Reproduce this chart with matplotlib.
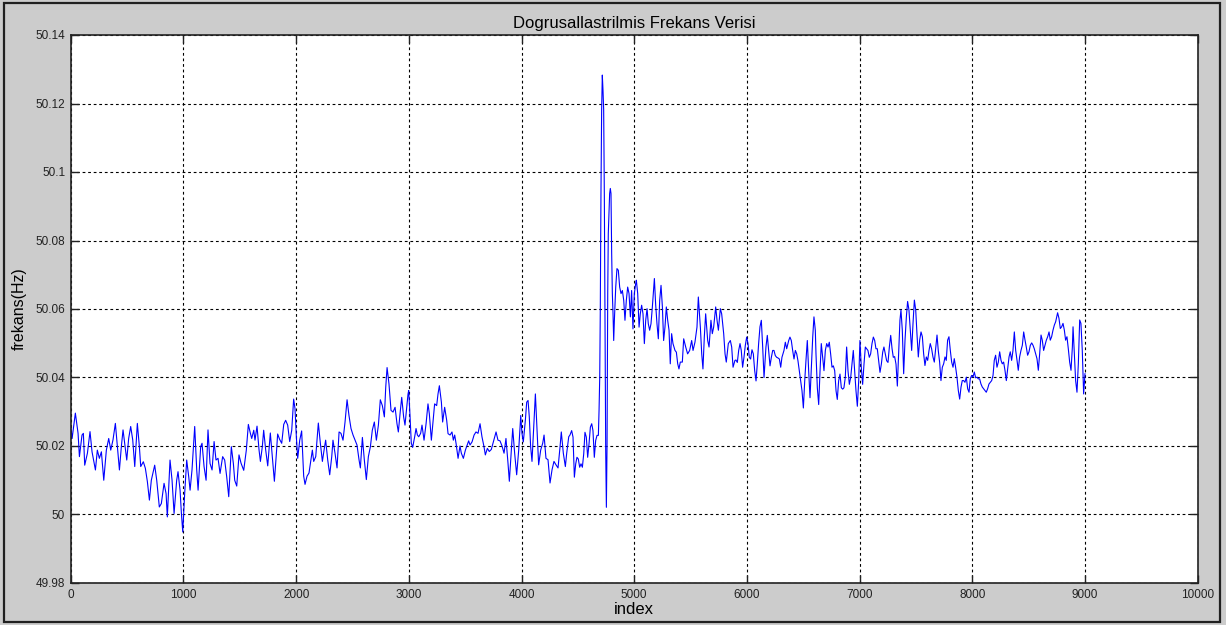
import numpy as np
import matplotlib
matplotlib.use("Agg")
import matplotlib.pyplot as plt
from matplotlib.patches import Rectangle

plt.rcParams['font.family'] = ['Liberation Sans', 'DejaVu Sans']

# frequency samples, read segment by segment (index, Hz)
idx_1 = [0, 12, 41, 65, 77, 100, 112, 124, 148, 171, 189, 219, 236, 254, 272, 293, 316, 337,
         355, 375, 396, 414, 432, 449, 464, 479, 497, 514, 532, 550, 568, 591, 609, 621, 644,
         662, 680, 698, 715, 745, 763, 786, 804, 828, 846, 857, 881, 899, 917, 940, 952, 970,
         982, 994, 1011, 1029, 1047, 1059, 1076, 1100, 1118, 1130, 1153, 1165, 1183, 1201,
         1218, 1236, 1254, 1272, 1289, 1307, 1325, 1348, 1366, 1384, 1402, 1425, 1443, 1455,
         1473]
hz_1 = [50.0257, 50.0222, 50.0296, 50.0237, 50.0169, 50.0232, 50.0237, 50.0144, 50.0179,
        50.0242, 50.0183, 50.0130, 50.0188, 50.0164, 50.0183, 50.0100, 50.0188, 50.0222,
        50.0188, 50.0218, 50.0266, 50.0198, 50.0130, 50.0198, 50.0247, 50.0208, 50.0159,
        50.0222, 50.0257, 50.0218, 50.0140, 50.0266, 50.0198, 50.0140, 50.0154, 50.0135,
        50.0096, 50.0042, 50.0100, 50.0144, 50.0100, 50.0022, 50.0032, 50.0091, 50.0061,
        49.9993, 50.0159, 50.0100, 50.0003, 50.0100, 50.0125, 50.0071, 50.0003, 49.9949,
        50.0061, 50.0159, 50.0110, 50.0071, 50.0130, 50.0257, 50.0130, 50.0071, 50.0198,
        50.0208, 50.0140, 50.0100, 50.0247, 50.0149, 50.0130, 50.0213, 50.0159, 50.0164,
        50.0120, 50.0169, 50.0159, 50.0110, 50.0052, 50.0198, 50.0149, 50.0100, 50.0083]

idx_2 = [1493, 1511, 1535, 1558, 1576, 1594, 1606, 1624, 1635, 1653, 1671, 1683, 1700, 1712,
         1730, 1748, 1771, 1789, 1807, 1825, 1836, 1854, 1872, 1890, 1907, 1925, 1943, 1961,
         1978, 1990, 2002, 2014, 2032, 2049, 2067, 2079, 2097, 2114, 2132, 2144, 2156, 2174,
         2197, 2215, 2233, 2250, 2262, 2280, 2298, 2316, 2327, 2345, 2363, 2381, 2398, 2416,
         2434, 2452, 2469, 2487, 2505, 2523, 2540, 2558, 2570, 2588, 2605, 2623, 2641, 2659,
         2676, 2694, 2712, 2730, 2747, 2765, 2783, 2795, 2807, 2824, 2842, 2860, 2878, 2895,
         2907, 2925, 2937, 2954, 2966]
hz_2 = [50.0174, 50.0150, 50.0129, 50.0188, 50.0263, 50.0237, 50.0222, 50.0246, 50.0217,
        50.0258, 50.0188, 50.0155, 50.0198, 50.0246, 50.0188, 50.0142, 50.0238, 50.0169,
        50.0097, 50.0179, 50.0235, 50.0219, 50.0208, 50.0263, 50.0275, 50.0261, 50.0213,
        50.0246, 50.0337, 50.0309, 50.0227, 50.0164, 50.0217, 50.0244, 50.0112, 50.0088,
        50.0112, 50.0121, 50.0160, 50.0188, 50.0155, 50.0169, 50.0267, 50.0208, 50.0155,
        50.0193, 50.0217, 50.0160, 50.0116, 50.0169, 50.0217, 50.0179, 50.0136, 50.0241,
        50.0237, 50.0217, 50.0270, 50.0335, 50.0289, 50.0251, 50.0232, 50.0217, 50.0203,
        50.0160, 50.0136, 50.0225, 50.0160, 50.0102, 50.0169, 50.0198, 50.0246, 50.0270,
        50.0217, 50.0261, 50.0335, 50.0318, 50.0285, 50.0371, 50.0429, 50.0381, 50.0304,
        50.0299, 50.0313, 50.0265, 50.0241, 50.0304, 50.0342, 50.0285, 50.0261]

idx_3 = [2981, 2993, 2999, 3011, 3022, 3034, 3052, 3064, 3076, 3088, 3105, 3117, 3135, 3153,
         3170, 3182, 3200, 3218, 3229, 3247, 3259, 3271, 3289, 3300, 3318, 3336, 3348, 3366,
         3383, 3395, 3407, 3419, 3437, 3454, 3466, 3484, 3502, 3513, 3531, 3543, 3561, 3579,
         3596, 3614, 3632, 3649, 3667, 3679, 3697, 3714, 3732, 3750, 3774, 3791, 3809, 3827,
         3845, 3862, 3880, 3892, 3910, 3922, 3939, 3957, 3975, 3993, 4004, 4016, 4034, 4046,
         4058, 4069, 4081, 4093, 4111, 4123, 4135, 4152, 4170, 4188, 4200, 4217, 4235, 4253,
         4271, 4288, 4306, 4324, 4342, 4353, 4371, 4389, 4401, 4419, 4430]
hz_3 = [50.0313, 50.0352, 50.0362, 50.0285, 50.0208, 50.0196, 50.0227, 50.0251, 50.0232,
        50.0227, 50.0237, 50.0261, 50.0217, 50.0265, 50.0323, 50.0294, 50.0217, 50.0285,
        50.0323, 50.0318, 50.0352, 50.0376, 50.0328, 50.0270, 50.0313, 50.0275, 50.0236,
        50.0232, 50.0241, 50.0217, 50.0232, 50.0208, 50.0164, 50.0200, 50.0179, 50.0164,
        50.0188, 50.0198, 50.0215, 50.0203, 50.0212, 50.0232, 50.0241, 50.0237, 50.0265,
        50.0227, 50.0198, 50.0174, 50.0193, 50.0184, 50.0190, 50.0212, 50.0241, 50.0217,
        50.0215, 50.0200, 50.0179, 50.0222, 50.0150, 50.0097, 50.0188, 50.0251, 50.0179,
        50.0116, 50.0188, 50.0289, 50.0237, 50.0212, 50.0275, 50.0328, 50.0333, 50.0285,
        50.0198, 50.0155, 50.0275, 50.0352, 50.0265, 50.0145, 50.0188, 50.0208, 50.0232,
        50.0164, 50.0160, 50.0092, 50.0131, 50.0155, 50.0145, 50.0136, 50.0198, 50.0241,
        50.0179, 50.0140, 50.0179, 50.0227, 50.0232]

idx_4 = [4445, 4457, 4469, 4481, 4492, 4504, 4516, 4528, 4540, 4552, 4563, 4575, 4587, 4599,
         4611, 4623, 4634, 4646, 4658, 4670, 4682, 4688, 4694, 4699, 4705, 4711, 4717, 4723,
         4729, 4735, 4741, 4747, 4753, 4759, 4765, 4770, 4782, 4788, 4794, 4800, 4806, 4812,
         4818, 4824, 4836, 4847, 4859, 4871, 4883, 4895, 4907, 4918, 4930, 4942, 4954, 4966,
         4977, 4989, 5001, 5013, 5019, 5031, 5043, 5054, 5066, 5078, 5090, 5102, 5114, 5125,
         5137, 5149, 5161, 5179, 5190, 5202, 5214, 5226, 5238, 5250, 5261, 5273, 5285, 5297,
         5309, 5320, 5332, 5344, 5362, 5374, 5386, 5397, 5409, 5427, 5439, 5457, 5474, 5492,
         5510, 5522, 5539, 5557, 5569, 5587, 5599, 5610, 5622, 5634, 5652, 5664, 5681, 5693,
         5705, 5723, 5735, 5747, 5764, 5776, 5794, 5806, 5817, 5835, 5853, 5865, 5877, 5894]
hz_4 = [50.0245, 50.0226, 50.0109, 50.0148, 50.0167, 50.0162, 50.0138, 50.0148, 50.0138,
        50.0177, 50.0240, 50.0226, 50.0167, 50.0206, 50.0255, 50.0265, 50.0245, 50.0167,
        50.0216, 50.0231, 50.0231, 50.0304, 50.0401, 50.0596, 50.0937, 50.1181, 50.1283,
        50.1239, 50.1181, 50.0927, 50.0547, 50.0187, 50.0021, 50.0206, 50.0645, 50.0820,
        50.0937, 50.0952, 50.0937, 50.0762, 50.0645, 50.0586, 50.0508, 50.0567, 50.0664,
        50.0718, 50.0713, 50.0664, 50.0645, 50.0654, 50.0625, 50.0567, 50.0625, 50.0664,
        50.0645, 50.0577, 50.0654, 50.0542, 50.0645, 50.0674, 50.0684, 50.0645, 50.0547,
        50.0586, 50.0611, 50.0586, 50.0499, 50.0567, 50.0601, 50.0557, 50.0538, 50.0557,
        50.0606, 50.0689, 50.0615, 50.0557, 50.0513, 50.0625, 50.0669, 50.0606, 50.0508,
        50.0547, 50.0606, 50.0567, 50.0538, 50.0440, 50.0528, 50.0499, 50.0479, 50.0474,
        50.0440, 50.0425, 50.0445, 50.0445, 50.0513, 50.0489, 50.0469, 50.0479, 50.0508,
        50.0479, 50.0503, 50.0547, 50.0635, 50.0547, 50.0469, 50.0425, 50.0518, 50.0586,
        50.0508, 50.0489, 50.0567, 50.0528, 50.0547, 50.0606, 50.0567, 50.0538, 50.0601,
        50.0586, 50.0528, 50.0469, 50.0445, 50.0499, 50.0508, 50.0489, 50.0430, 50.0450]

idx_5 = [5903, 5915, 5927, 5939, 5950, 5962, 5974, 5986, 5998, 6010, 6021, 6033, 6045, 6057,
         6069, 6081, 6092, 6104, 6116, 6128, 6140, 6152, 6169, 6181, 6193, 6205, 6217, 6229,
         6240, 6252, 6264, 6276, 6288, 6300, 6311, 6329, 6341, 6353, 6371, 6382, 6394, 6406,
         6418, 6430, 6442, 6453, 6465, 6477, 6489, 6501, 6513, 6524, 6536, 6548, 6560, 6572,
         6584, 6595, 6607, 6613, 6625, 6637, 6649, 6660, 6672, 6684, 6696, 6708, 6720, 6731,
         6743, 6755, 6767, 6779, 6791, 6802, 6814, 6826, 6838, 6850, 6861, 6873, 6885, 6897,
         6909, 6921, 6932, 6944, 6956, 6968, 6980, 6992, 7003, 7015, 7027, 7039, 7051, 7063,
         7074, 7086, 7098, 7110, 7122, 7134, 7145, 7157, 7169, 7181, 7193, 7205, 7216, 7228,
         7240, 7252, 7264, 7276, 7288, 7299, 7311, 7323, 7335, 7347, 7358]
hz_5 = [50.0451, 50.0444, 50.0479, 50.0499, 50.0479, 50.0430, 50.0459, 50.0494, 50.0518,
        50.0499, 50.0459, 50.0454, 50.0481, 50.0469, 50.0420, 50.0390, 50.0439, 50.0499,
        50.0548, 50.0567, 50.0489, 50.0400, 50.0489, 50.0523, 50.0479, 50.0434, 50.0459,
        50.0479, 50.0479, 50.0464, 50.0459, 50.0457, 50.0454, 50.0430, 50.0459, 50.0479,
        50.0503, 50.0484, 50.0508, 50.0518, 50.0508, 50.0479, 50.0454, 50.0479, 50.0469,
        50.0449, 50.0420, 50.0390, 50.0361, 50.0311, 50.0390, 50.0449, 50.0508, 50.0420,
        50.0341, 50.0430, 50.0518, 50.0577, 50.0538, 50.0469, 50.0370, 50.0321, 50.0420,
        50.0499, 50.0459, 50.0420, 50.0479, 50.0499, 50.0489, 50.0503, 50.0469, 50.0430,
        50.0434, 50.0420, 50.0361, 50.0336, 50.0390, 50.0410, 50.0370, 50.0366, 50.0370,
        50.0400, 50.0489, 50.0420, 50.0380, 50.0400, 50.0439, 50.0479, 50.0420, 50.0361,
        50.0316, 50.0390, 50.0508, 50.0430, 50.0380, 50.0439, 50.0489, 50.0484, 50.0479,
        50.0459, 50.0469, 50.0499, 50.0518, 50.0508, 50.0484, 50.0484, 50.0449, 50.0415,
        50.0439, 50.0474, 50.0489, 50.0469, 50.0449, 50.0444, 50.0489, 50.0523, 50.0484,
        50.0459, 50.0461, 50.0439, 50.0375, 50.0479, 50.0567]

idx_6 = [7367, 7379, 7391, 7403, 7415, 7426, 7438, 7450, 7462, 7474, 7486, 7498, 7509, 7521,
         7533, 7545, 7557, 7568, 7580, 7592, 7604, 7616, 7627, 7639, 7651, 7663, 7675, 7687,
         7698, 7710, 7722, 7734, 7746, 7758, 7769, 7781, 7793, 7805, 7817, 7829, 7840, 7852,
         7864, 7876, 7888, 7900, 7911, 7923, 7935, 7947, 7959, 7971, 7982, 7994, 8006, 8018,
         8030, 8042, 8053, 8065, 8077, 8089, 8101, 8113, 8124, 8136, 8148, 8160, 8172, 8184,
         8195, 8207, 8219, 8231, 8243, 8255, 8266, 8278, 8290, 8302, 8314, 8326, 8337, 8349,
         8361, 8373, 8385, 8397, 8408, 8420, 8432, 8444, 8456, 8468, 8479, 8491, 8503, 8515,
         8527, 8539, 8550, 8562, 8574, 8586, 8598, 8610, 8621, 8633, 8645, 8657, 8669, 8681,
         8692, 8704, 8716, 8728, 8740, 8752, 8757, 8769, 8781, 8793, 8805, 8817, 8828, 8840,
         8852, 8864, 8876, 8888, 8894, 8905, 8917, 8929, 8941, 8953, 8964, 8976, 8988, 9000]
hz_6 = [50.0597, 50.0538, 50.0411, 50.0509, 50.0577, 50.0622, 50.0597, 50.0538, 50.0479,
        50.0558, 50.0626, 50.0597, 50.0528, 50.0460, 50.0509, 50.0533, 50.0519, 50.0470,
        50.0435, 50.0460, 50.0450, 50.0479, 50.0499, 50.0484, 50.0460, 50.0445, 50.0484,
        50.0524, 50.0479, 50.0445, 50.0391, 50.0430, 50.0440, 50.0460, 50.0450, 50.0509,
        50.0519, 50.0479, 50.0445, 50.0430, 50.0455, 50.0430, 50.0401, 50.0362, 50.0337,
        50.0372, 50.0391, 50.0391, 50.0386, 50.0401, 50.0367, 50.0357, 50.0396, 50.0406,
        50.0401, 50.0416, 50.0399, 50.0401, 50.0396, 50.0396, 50.0381, 50.0372, 50.0367,
        50.0362, 50.0357, 50.0367, 50.0381, 50.0386, 50.0391, 50.0406, 50.0450, 50.0465,
        50.0430, 50.0445, 50.0475, 50.0450, 50.0440, 50.0445, 50.0421, 50.0391, 50.0425,
        50.0460, 50.0475, 50.0450, 50.0479, 50.0533, 50.0479, 50.0450, 50.0421, 50.0460,
        50.0479, 50.0494, 50.0533, 50.0509, 50.0489, 50.0465, 50.0475, 50.0494, 50.0501,
        50.0494, 50.0484, 50.0470, 50.0455, 50.0421, 50.0470, 50.0524, 50.0509, 50.0479,
        50.0494, 50.0509, 50.0519, 50.0533, 50.0509, 50.0519, 50.0538, 50.0553, 50.0563,
        50.0582, 50.0589, 50.0573, 50.0543, 50.0548, 50.0558, 50.0538, 50.0509, 50.0519,
        50.0484, 50.0445, 50.0421, 50.0489, 50.0548, 50.0470, 50.0391, 50.0357, 50.0440,
        50.0568, 50.0558, 50.0479, 50.0352, 50.0411]

x_ticks = [0, 1000, 2000, 3000, 4000, 5000, 6000, 7000, 8000, 9000, 10000]
y_ticks = [49.98, 50.0, 50.02, 50.04, 50.06, 50.08, 50.1, 50.12, 50.14]
y_ticklabels = ['49.98', '50', '50.02', '50.04', '50.06', '50.08', '50.1', '50.12', '50.14']

index = np.concatenate([idx_1, idx_2, idx_3, idx_4, idx_5, idx_6])
freq = np.concatenate([hz_1, hz_2, hz_3, hz_4, hz_5, hz_6])

fig = plt.figure(figsize=(12.26, 6.25), dpi=100)
fig.patch.set_facecolor('#cccccc')
fig.patches.append(Rectangle((4 / 1226, 3 / 625), 1216 / 1226, 619 / 625,
                             transform=fig.transFigure, fill=False,
                             edgecolor='#202020', linewidth=1.6))

ax = fig.add_axes([0.0577, 0.0672, 0.9192, 0.8768])
ax.plot(index, freq, color='#0000ff', linewidth=0.8)

ax.set_xlim(0, 10000)
ax.set_ylim(49.98, 50.14)
ax.set_xticks(x_ticks)
ax.set_yticks(y_ticks)
ax.set_yticklabels(y_ticklabels)
ax.tick_params(direction='in', length=6, width=1.0, labelsize=8.5, colors='#222222',
               top=True, right=True, pad=4)
ax.grid(True, color='black', linestyle=(0, (2.5, 2.5)), linewidth=0.8)
for s in ax.spines.values():
    s.set_linewidth(1.2)
    s.set_color('#222222')

ax.set_title('Dogrusallastrilmis Frekans Verisi', fontsize=12, pad=5)
ax.set_xlabel('index', fontsize=12, labelpad=1)
ax.set_ylabel('frekans(Hz)', fontsize=11.5, labelpad=6)

fig.savefig('out.png', dpi=100, facecolor=fig.get_facecolor())
